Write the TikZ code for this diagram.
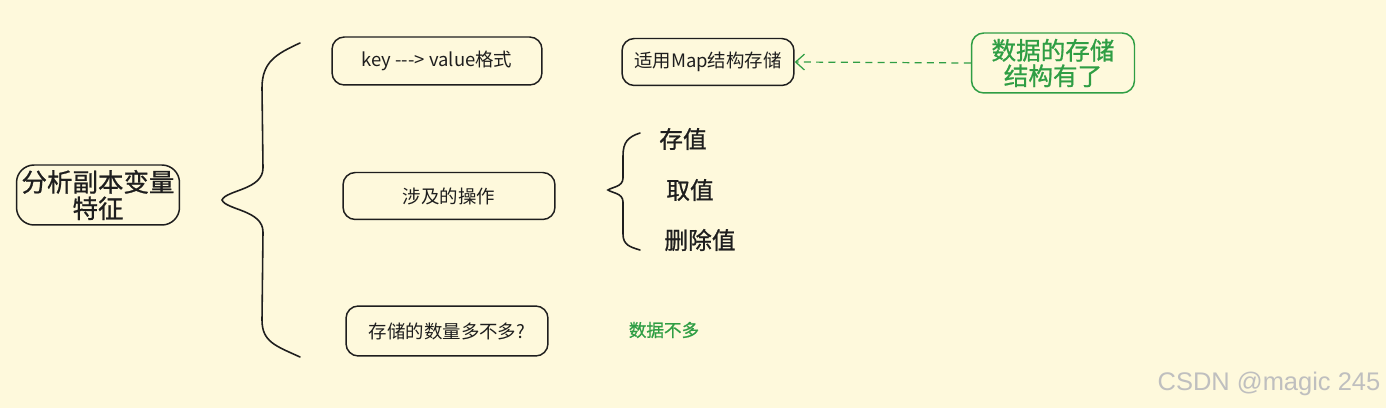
\documentclass[tikz,border=0pt]{standalone}
\usepackage{fontspec}
\newfontfamily\cjk{Noto Sans CJK SC}
\newfontfamily\cjkheavy[FakeBold=0.8]{Noto Sans CJK SC}
\newfontfamily\markfont{Liberation Sans}
\usetikzlibrary{arrows.meta}

\definecolor{paper}{HTML}{FEF9DC}
\definecolor{ink}{HTML}{1E1E1E}
\definecolor{leaf}{HTML}{2F9E44}

\tikzset{
  sbox/.style={draw=ink, line width=0.85pt, rounded corners=7pt, inner sep=0,
               text=ink, font=\cjk\fontsize{10.5}{12}\selectfont},
  rootbox/.style={sbox, rounded corners=10pt, align=center,
                  font=\cjkheavy\fontsize{14.5}{15}\selectfont},
  notebox/.style={sbox, draw=leaf, text=leaf, align=center,
                  font=\cjkheavy\fontsize{14}{14.5}\selectfont},
  optext/.style={text=ink, font=\cjkheavy\fontsize{13.5}{14}\selectfont},
  brace line/.style={ink, line width=0.9pt, line cap=round},
  hint arrow/.style={leaf, line width=0.7pt, dash pattern=on 4pt off 3pt,
                     -{Straight Barb[length=5pt, width=9pt, line width=0.7pt]}},
}

\begin{document}
\begin{tikzpicture}[x=0.02cm, y=-0.02cm]
  % 1 unit = 1 px of the 1386 x 408 sketch, y runs downwards
  \fill[paper] (0,0) rectangle (1386,408);
  \useasboundingbox (0,0) rectangle (1386,408);

  % ---- root ----
  \node[rootbox, minimum width=3.26cm, minimum height=1.2cm] (root) at (98,195)
    {分析副本变量\\特征};

  % ---- big brace ----
  \draw[brace line] (300,43) .. controls (276,54) and (262,62) .. (262,88)
    -- (263,168) .. controls (263,190) and (226,190) .. (222,200)
    .. controls (226,210) and (263,210) .. (263,232)
    -- (262,320) .. controls (262,342) and (276,346) .. (300,357);

  % ---- branches ----
  \node[sbox, minimum width=4.2cm, minimum height=0.96cm] (kv) at (437,61)
    {key ---> value格式};
  \node[sbox, minimum width=3.44cm, minimum height=0.94cm] (mapbox) at (708,62)
    {适用Map结构存储};
  \node[sbox, minimum width=4.24cm, minimum height=0.94cm] (ops) at (449,196)
    {涉及的操作};
  \node[sbox, minimum width=4.04cm, minimum height=1.0cm] (count) at (447,331)
    {存储的数量多不多?};

  % ---- note on the right ----
  \node[notebox, minimum width=3.26cm, minimum height=1.2cm] (store) at (1053,63)
    {数据的存储\\结构有了};
  \draw[hint arrow] (store.west) -- (mapbox.east);

  % ---- small brace with the operations ----
  \draw[brace line] (640,133) .. controls (628,137) and (623,142) .. (623,156)
    -- (623,178) .. controls (623,187) and (612,187) .. (608,190)
    .. controls (612,193) and (623,193) .. (623,202)
    -- (623,234) .. controls (623,245) and (630,247) .. (640,250);
  \node[optext] (put) at (683,139) {存值};
  \node[optext] (get) at (690,190) {取值};
  \node[optext] (del) at (700,240) {删除值};

  % ---- answer ----
  \node[text=leaf, font=\cjkheavy\fontsize{10}{12}\selectfont] (few) at (664,330) {数据不多};

  % ---- watermark ----
  \node[text=black!25, font=\markfont\fontsize{14.5}{16}\selectfont] (mark) at (1269,384)
    {CSDN @magic 245};
\end{tikzpicture}
\end{document}
